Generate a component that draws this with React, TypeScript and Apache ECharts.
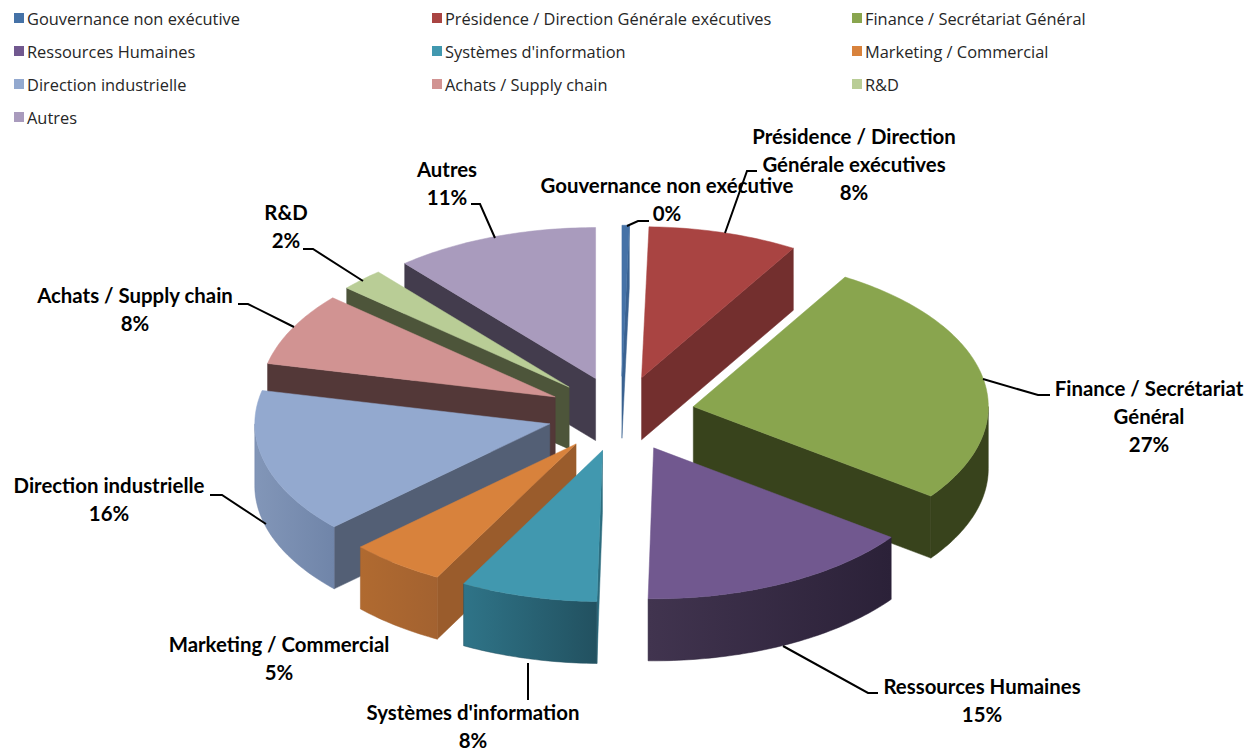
import React, { useEffect, useRef } from "react";
import * as echarts from "echarts";

const categories = [
  "Gouvernance non exécutive",
  "Présidence / Direction Générale exécutives",
  "Finance / Secrétariat Général",
  "Ressources Humaines",
  "Systèmes d'information",
  "Marketing / Commercial",
  "Direction industrielle",
  "Achats / Supply chain",
  "R&D",
  "Autres",
];
const values = [0.4, 8.2, 26.5, 15.2, 7.5, 5.25, 15.5, 7.85, 2.4, 11.2];

const topColors = ["#4572A7", "#A94442", "#89A54E", "#71588F", "#4198AF", "#D8823C", "#93A9CF", "#D19392", "#B9CD96", "#A99BBD"];
const innerWallColors = ["#3A6291", "#732F2E", "#38431C", "#2C2339", "#2C6C7E", "#9A5C2C", "#535F75", "#533838", "#4D553A", "#433C4D"];
const outerWallLeft = ["#3A6291", "#732F2E", "#38431C", "#41344F", "#2F7488", "#B06A30", "#8296B8", "#533838", "#4D553A", "#433C4D"];
const outerWallRight = ["#3A6291", "#732F2E", "#38431C", "#2B2138", "#225160", "#A36230", "#7085A9", "#533838", "#4D553A", "#433C4D"];

const legendColumns = [[0, 3, 6, 9], [1, 4, 7], [2, 5, 8]];
const legendLeft = [9, 427, 847];

const labelLines = [
  ["Gouvernance non exécutive"],
  ["Présidence / Direction", "Générale exécutives"],
  ["Finance / Secrétariat", "Général"],
  ["Ressources Humaines"],
  ["Systèmes d'information"],
  ["Marketing / Commercial"],
  ["Direction industrielle"],
  ["Achats / Supply chain"],
  ["R&D"],
  ["Autres"],
];
const labelCenter = [[667, 199], [854, 164], [1149, 416], [982, 700], [473, 726], [279, 658], [109, 499], [135, 309], [286, 226], [447, 183]];
const leaders = [
  [[627, 226], [638, 221], [649, 221]],
  [[725, 233], [747, 171], [757, 171]],
  [[983, 379], [1038, 395], [1050, 395]],
  [[783, 646], [868, 693], [878, 693]],
  [[528, 663], [528, 700]],
  [],
  [[266, 524], [222, 495], [210, 495]],
  [[294, 327], [248, 304], [238, 304]],
  [[363, 281], [313, 249], [303, 249]],
  [[495, 238], [480, 204], [471, 204]],
];

const CX = 621;
const CY = 414;
const RX = 295;
const RY = 151;
const DEPTH = 62;
const EXPLODE = 0.25;

const total = values.reduce((a, b) => a + b, 0);
const rad = (d: number) => (d * Math.PI) / 180;
const toDeg = (v: number) => (v / total) * 360;

const starts: number[] = [];
values.reduce((acc, v, i) => {
  starts[i] = acc;
  return acc + v;
}, 0);

function apexOf(a1: number, a2: number) {
  const m = rad((a1 + a2) / 2);
  return [CX + RX * EXPLODE * Math.sin(m), CY - RY * EXPLODE * Math.cos(m)];
}

function makeRenderItem(idx: number) {
  return (_params: any, api: any) => {
    const a1 = toDeg(api.value(0));
    const a2 = toDeg(api.value(1));
    const [ax, ay] = apexOf(a1, a2);
    const rim = (t: number, dy = 0) => [ax + RX * Math.sin(rad(t)), ay - RY * Math.cos(rad(t)) + dy];
    const arc = (from: number, to: number, dy = 0) => {
      const pts: number[][] = [];
      const n = Math.max(2, Math.ceil(to - from));
      for (let i = 0; i <= n; i++) pts.push(rim(from + ((to - from) * i) / n, dy));
      return pts;
    };
    const children: any[] = [];
    const wall = (t: number) => {
      const c = innerWallColors[idx];
      children.push({
        type: "polygon",
        shape: { points: [[ax, ay], rim(t), rim(t, DEPTH), [ax, ay + DEPTH]] },
        style: { fill: c, stroke: c, lineWidth: 0.5 },
      });
    };
    if (Math.sin(rad(a1)) < 0) wall(a1);
    if (Math.sin(rad(a2)) > 0) wall(a2);
    const from = Math.max(a1, 90);
    const to = Math.min(a2, 270);
    if (to > from) {
      const top = arc(from, to);
      const bottom = arc(from, to, DEPTH).reverse();
      children.push({
        type: "polygon",
        shape: { points: top.concat(bottom) },
        style: {
          fill: new echarts.graphic.LinearGradient(0, 0, 1, 0, [
            { offset: 0, color: outerWallLeft[idx] },
            { offset: 1, color: outerWallRight[idx] },
          ]),
          stroke: outerWallRight[idx],
          lineWidth: 0.5,
        },
      });
    }
    children.push({
      type: "polygon",
      shape: { points: [[ax, ay] as number[]].concat(arc(a1, a2)) },
      style: { fill: topColors[idx], stroke: topColors[idx], lineWidth: 0.5 },
    });
    return { type: "group", children };
  };
}

export default function App() {
  const ref = useRef<HTMLDivElement>(null);
  useEffect(() => {
    const chart = echarts.init(ref.current!, undefined, { renderer: "svg" });
    const paintOrder = categories
      .map((_, i) => i)
      .sort((p, q) => {
        const ya = apexOf(toDeg(starts[p]), toDeg(starts[p] + values[p]))[1];
        const yb = apexOf(toDeg(starts[q]), toDeg(starts[q] + values[q]))[1];
        return ya - yb;
      });
    const labelElements = categories.map((_, i) => ({
      type: "text",
      z: 100,
      style: {
        x: labelCenter[i][0],
        y: labelCenter[i][1],
        text: [...labelLines[i], `${Math.round(values[i])}%`].join("\n"),
        font: "bold 20.4px Lato",
        lineHeight: 28,
        fill: "#000",
        textAlign: "center",
        textVerticalAlign: "middle",
      },
    }));
    const leaderElements = leaders
      .filter((l) => l.length > 0)
      .map((points) => ({
        type: "polyline",
        z: 100,
        shape: { points },
        style: { stroke: "#000", lineWidth: 2, fill: "none" },
      }));
    chart.setOption({
      animation: false,
      backgroundColor: "#fff",
      legend: legendColumns.map((col, c) => ({
        orient: "vertical",
        left: legendLeft[c],
        top: 3,
        itemWidth: 10,
        itemHeight: 10,
        itemGap: 13,
        icon: "rect",
        selectedMode: false,
        data: col.map((i) => categories[i]),
        textStyle: { fontFamily: "Open Sans", fontSize: 16.4, color: "#262626", lineHeight: 20, padding: [0, 0, 0, -2] },
      })),
      series: paintOrder.map((i, rank) => ({
        type: "custom",
        name: categories[i],
        coordinateSystem: "none",
        z: 2 + rank,
        silent: true,
        itemStyle: { color: topColors[i] },
        renderItem: makeRenderItem(i),
        data: [[starts[i], starts[i] + values[i]]],
      })),
      graphic: { elements: [...leaderElements, ...labelElements] },
    });
    return () => chart.dispose();
  }, []);
  return <div ref={ref} style={{ position: "absolute", left: 0, top: 0, width: 1260, height: 752 }} />;
}
